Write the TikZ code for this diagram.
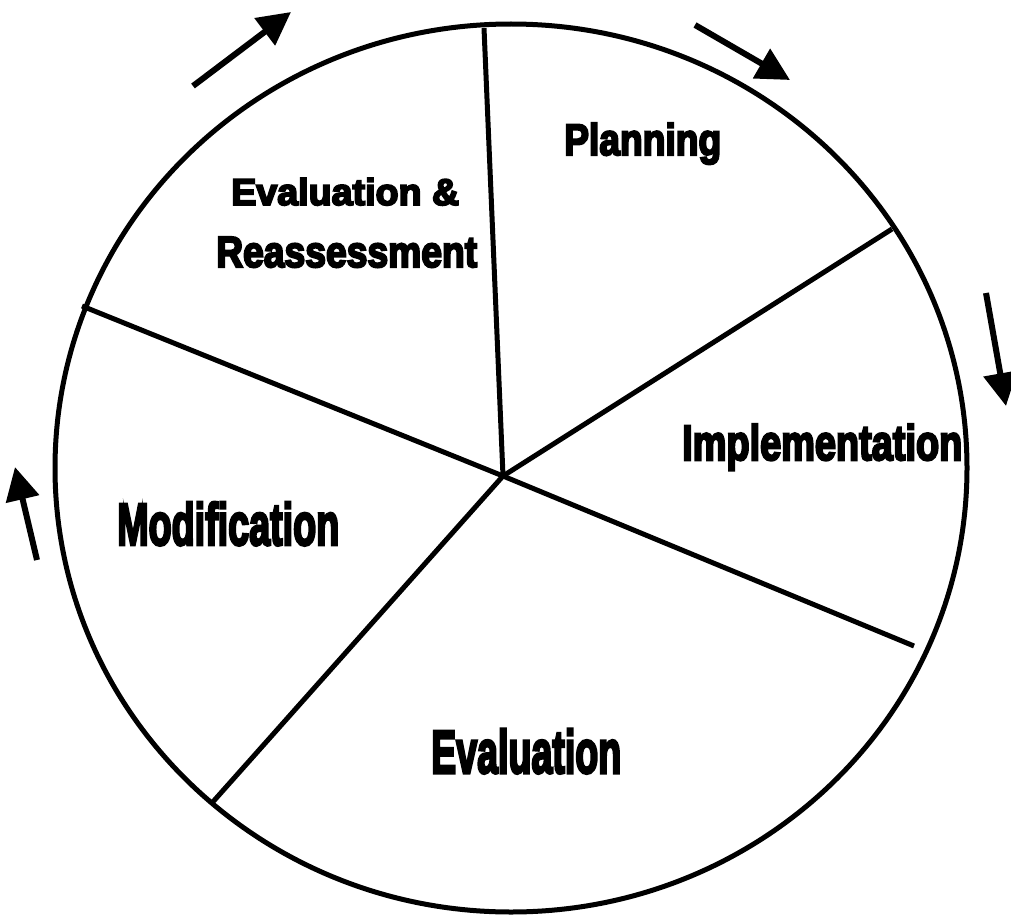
\documentclass[tikz,border=0pt]{standalone}
\usepackage{fontspec}
\usepackage{graphicx}
\newfontfamily\labelfont{Liberation Sans Bold}[FakeBold=5]
\usetikzlibrary{arrows.meta}
\tikzset{%
    rim/.style={line width=5pt},
    spoke/.style={line width=5pt},
    turn/.style={line width=6pt, -{Triangle[length=33pt,width=33pt]}},
    phase/.style={inner sep=0pt, anchor=base west},
}
% squeeze a label into a given width and height
\newcommand{\fitlabel}[3]{\resizebox{#1}{#2}{\labelfont #3}}

\begin{document}
\begin{tikzpicture}[x=1pt,y=-1pt]
    \useasboundingbox (0,0) rectangle (1011,915);

    % wheel
    \draw[rim] (511,468) ellipse [x radius=456pt, y radius=444pt];

    % spokes
    \coordinate (hub) at (503,476);
    \coordinate (s1) at (484,28);
    \coordinate (s2) at (892,229);
    \coordinate (s3) at (914,646);
    \coordinate (s4) at (211,804);
    \coordinate (s5) at (82,306);
    \foreach \i in {1,...,5} \draw[spoke] (hub) -- (s\i);

    % phases
    \node[phase] (planning) at (564,155) {\fitlabel{157pt}{32pt}{Planning}};
    \node[phase] (implement) at (682,460) {\fitlabel{280pt}{36pt}{Implementation}};
    \node[phase] (evaluation) at (431,773) {\fitlabel{190pt}{44pt}{Evaluation}};
    \node[phase] (modify) at (117,545) {\fitlabel{222pt}{43pt}{Modification}};
    \node[phase] (reeval) at (231,205) {\fitlabel{228pt}{27pt}{Evaluation \&}};
    \node[phase] (reassess) at (216,267) {\fitlabel{261pt}{30pt}{Reassessment}};

    % direction of the cycle
    \coordinate (nw-tail) at (193,86);   \coordinate (nw-tip) at (291,12);
    \coordinate (ne-tail) at (695,25);   \coordinate (ne-tip) at (790,80);
    \coordinate (e-tail) at (986,293);   \coordinate (e-tip) at (1006,406);
    \coordinate (w-tail) at (37,560);    \coordinate (w-tip) at (15,467);
    \draw[turn] (nw-tail) -- (nw-tip);
    \draw[turn] (ne-tail) -- (ne-tip);
    \draw[turn] (e-tail) -- (e-tip);
    \draw[turn] (w-tail) -- (w-tip);

\end{tikzpicture}
\end{document}
